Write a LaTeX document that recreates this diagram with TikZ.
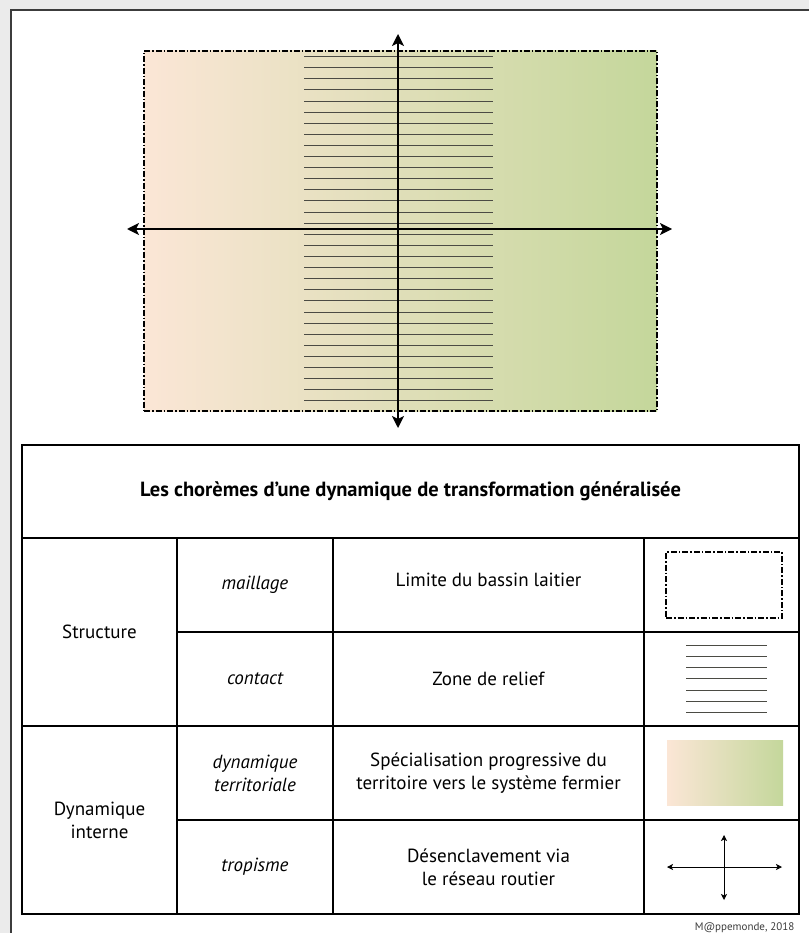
\documentclass[tikz,border=0pt]{standalone}
\usepackage{fontspec}
\setmainfont{PT Sans}
\usepackage{xcolor}
\usetikzlibrary{arrows.meta, positioning, calc}

\definecolor{peach}{RGB}{251,230,214}
\definecolor{meadow}{RGB}{196,215,155}
\definecolor{panelgray}{RGB}{235,235,235}
\definecolor{framegray}{RGB}{60,60,60}
\definecolor{hatchgray}{RGB}{75,75,68}

\begin{document}
\begin{tikzpicture}[x=1pt, y=-1pt,
    cell/.style={rectangle, draw, line width=1.3pt, minimum height=94pt, inner sep=0pt, align=center, font=\fontsize{19}{23}\selectfont},
    headcell/.style={cell, minimum width=777pt, minimum height=93pt, font=\fontsize{20.5}{24}\selectfont\bfseries},
    groupcell/.style={cell, minimum width=155pt, minimum height=188pt},
    termcell/.style={cell, minimum width=156pt, font=\fontsize{19}{23}\selectfont\itshape},
    desccell/.style={cell, minimum width=311pt},
    keycell/.style={cell, minimum width=155pt},
    dashdot/.style={line width=1.2pt, dash pattern=on 6pt off 2pt on 1.5pt off 2pt},
    gradient/.style={left color=peach, right color=meadow},
    hatch/.style={line width=1pt, hatchgray},
    axis/.style={line width=1.6pt, {Stealth[length=12pt, width=12pt, inset=3pt]}-{Stealth[length=12pt, width=12pt, inset=3pt]}},
    keyaxis/.style={line width=0.8pt, {Stealth[length=6pt, width=6pt, inset=1.5pt]}-{Stealth[length=6pt, width=6pt, inset=1.5pt]}}
]
% Page and frame
\useasboundingbox (0,0) rectangle (809,933);
\fill[panelgray] (0,0) rectangle (809,933);
\fill[white] (11,10) rectangle (809,933);
\draw[framegray, line width=1.2pt] (11,933) -- (11,10) -- (809,10);

% Chorem: dairy basin
\node[rectangle, gradient, dashdot, draw, minimum width=513pt, minimum height=360pt, inner sep=0pt] (basin) at (400.5,231) {};

% Relief zone
\foreach \i in {0,...,31}
    \draw[hatch] (304,{56.7+\i*11.1}) -- (493,{56.7+\i*11.1});

% Road axes
\coordinate (north) at (398,34);
\coordinate (south) at (398,428);
\coordinate (west) at (127,229);
\coordinate (east) at (672,229);
\draw[axis] (south) -- (north);
\draw[axis] (west) -- (east);

% Legend table
\node[headcell] (title) at (410.5,491.5) {Les chorèmes d’une dynamique de transformation généralisée};

\node[groupcell] (structure) at (99.5,632) {Structure};
\node[groupcell] (dynamique) at (99.5,820) {Dynamique\\interne};

\node[termcell] (maillage) at (255,585) {maillage};
\node[termcell] (contact) at (255,679) {contact};
\node[termcell] (territoire) at (255,773) {dynamique\\territoriale};
\node[termcell] (tropisme) at (255,867) {tropisme};

\node[desccell] (limite) at (488.5,585) {};
\node[font=\fontsize{19}{23}\selectfont] (limitetext) at ($(limite)+(0,-5)$) {Limite du bassin laitier};
\node[desccell] (relief) at (488.5,679) {Zone de relief};
\node[desccell] (special) at (488.5,773) {Spécialisation progressive du\\territoire vers le système fermier};
\node[desccell] (routier) at (488.5,867) {Désenclavement via\\le réseau routier};

\node[keycell] (key1) at (721.5,585) {};
\node[keycell] (key2) at (721.5,679) {};
\node[keycell] (key3) at (721.5,773) {};
\node[keycell] (key4) at (721.5,867) {};

% Legend symbols
\node[rectangle, dashdot, draw, minimum width=116pt, minimum height=66pt, inner sep=0pt] (limkey) at ($(key1)+(2.5,0)$) {};
\foreach \i in {0,...,6}
    \draw[hatch] ($(key2)+(-35.5,{-34+\i*11.3})$) -- ++(81,0);
\node[rectangle, gradient, minimum width=116pt, minimum height=65pt, inner sep=0pt] (gradkey) at ($(key3)+(3.5,-0.5)$) {};

\coordinate (knorth) at ($(key4)+(2.5,-32)$);
\coordinate (ksouth) at ($(key4)+(2.5,33)$);
\coordinate (kwest) at ($(key4)+(-54.5,0)$);
\coordinate (keast) at ($(key4)+(60.5,0)$);
\draw[keyaxis] (ksouth) -- (knorth);
\draw[keyaxis] (kwest) -- (keast);

% Credit
\node[anchor=east, font=\fontsize{11}{12}\selectfont, text=framegray] (credit) at (798,928) {M@ppemonde, 2018};
\end{tikzpicture}
\end{document}
